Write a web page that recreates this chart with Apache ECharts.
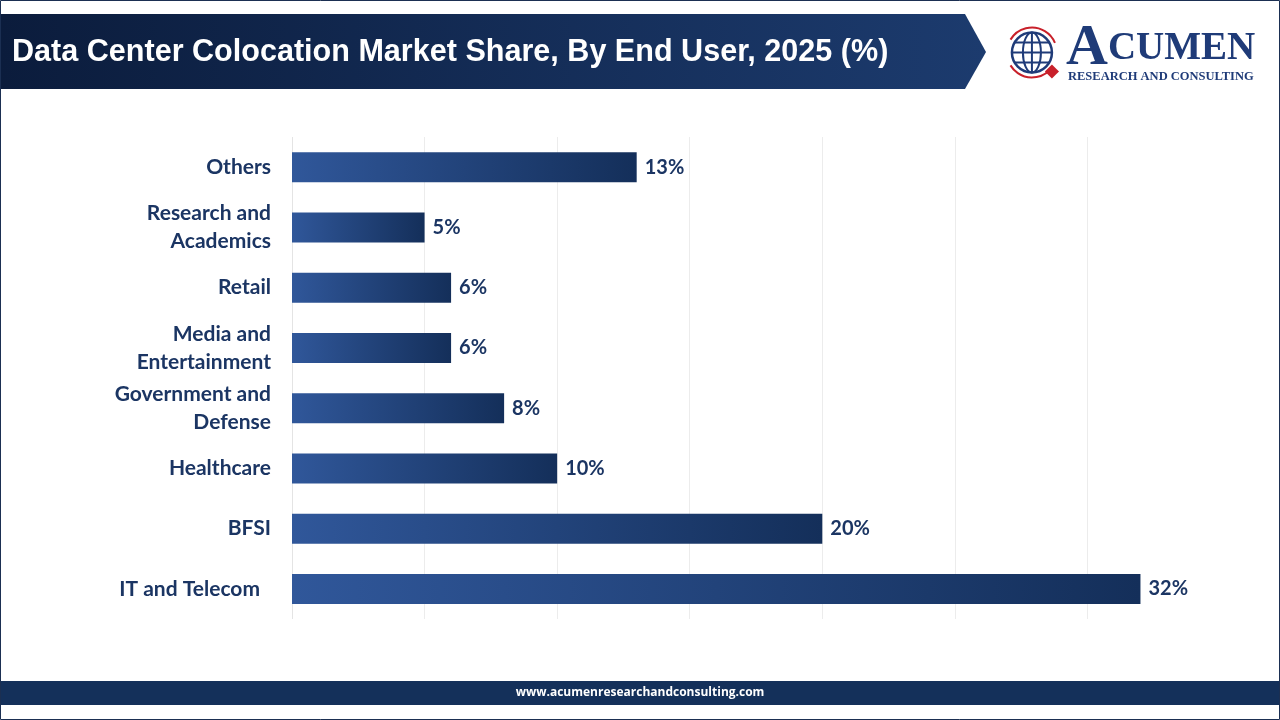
<!DOCTYPE html>
<html>
<head>
<meta charset="utf-8">
<script src="https://cdn.jsdelivr.net/npm/echarts@6/dist/echarts.min.js"></script>
<style>
  html, body { margin: 0; padding: 0; background: #fff; }
  #main { width: 1280px; height: 720px; }
</style>
</head>
<body>
<div id="main"></div>
<script>
  'use strict'

  // data, bottom-to-top as drawn on the category axis
  var categories = ['IT and Telecom', 'BFSI', 'Healthcare', 'Government and\nDefense',
    'Media and\nEntertainment', 'Retail', 'Research and\nAcademics', 'Others'];
  var shares = [32, 20, 10, 8, 6, 6, 5, 13];
  var valueTicks = [0, 5, 10, 15, 20, 25, 30, 35];

  var navy = '#1b3563';
  var labelFont = 'Lato, "Open Sans", sans-serif';

  var chart = echarts.init(document.getElementById('main'));

  var option = {
    backgroundColor: '#ffffff',
    animation: false,
    grid: {
      left: 292,
      right: 60,
      top: 137,
      height: 482
    },
    xAxis: {
      type: 'value',
      min: valueTicks[0],
      max: valueTicks[valueTicks.length - 1],
      interval: 5,
      axisLabel: { show: false },
      axisTick: { show: false },
      axisLine: { show: false },
      splitLine: {
        lineStyle: {
          color: ['#e4e4e4', '#ececec', '#ececec', '#ececec', '#ececec', '#ececec', '#ececec', 'rgba(0,0,0,0)'],
          width: 1
        }
      }
    },
    yAxis: {
      type: 'category',
      data: categories,
      axisLine: { show: false },
      axisTick: { show: false },
      axisLabel: {
        margin: 21,
        color: navy,
        fontFamily: labelFont,
        fontWeight: 'bold',
        fontSize: 21,
        lineHeight: 28,
        align: 'right',
        formatter: function (v) {
          // the first label sits a little further left in the original
          return v === categories[0] ? '{pad|' + v + '}' : v;
        },
        rich: {
          pad: {
            color: navy,
            fontFamily: labelFont,
            fontWeight: 'bold',
            fontSize: 21,
            padding: [0, 11, 0, 0]
          }
        }
      }
    },
    series: [
      {
        name: 'Share',
        type: 'bar',
        data: shares,
        barWidth: 30,
        itemStyle: {
          color: new echarts.graphic.LinearGradient(0, 0, 1, 0, [
            { offset: 0, color: '#30579a' },
            { offset: 1, color: '#142f5a' }
          ])
        },
        label: {
          show: true,
          position: 'right',
          distance: 8,
          formatter: '{c}%',
          color: navy,
          fontFamily: labelFont,
          fontWeight: 'bold',
          fontSize: 20
        }
      }
    ],
    graphic: [
      // outer frame
      {
        type: 'rect',
        shape: { x: 0.5, y: 0.5, width: 1279, height: 719 },
        style: { fill: 'none', stroke: '#1b2f52', lineWidth: 1 },
        silent: true
      },
      // title banner
      {
        type: 'polygon',
        shape: { points: [[1, 14], [965, 14], [986, 52], [965, 89], [1, 89]] },
        style: {
          fill: new echarts.graphic.LinearGradient(0, 0, 1, 0, [
            { offset: 0, color: '#0b1c3c' },
            { offset: 1, color: '#1c3b6e' }
          ])
        },
        silent: true
      },
      {
        type: 'text',
        x: 12,
        y: 52,
        scaleX: 0.955,
        style: {
          text: 'Data Center Colocation Market Share, By End User, 2025 (%)',
          fill: '#ffffff',
          font: 'bold 32px "Liberation Sans Narrow", "Liberation Sans", Arial, sans-serif',
          verticalAlign: 'middle'
        },
        silent: true
      },
      // logo: globe
      {
        type: 'group',
        left: 1008,
        top: 25,
        silent: true,
        children: [
          { type: 'arc', shape: { cx: 26, cy: 27, r: 25, startAngle: -2.6, endAngle: -0.4 }, style: { stroke: '#c8202a', lineWidth: 2, fill: 'none' } },
          { type: 'arc', shape: { cx: 26, cy: 27, r: 25, startAngle: 0.6, endAngle: 2.6 }, style: { stroke: '#c8202a', lineWidth: 2, fill: 'none' } },
          { type: 'circle', shape: { cx: 26, cy: 27, r: 20 }, style: { fill: '#ffffff', stroke: '#1f3b78', lineWidth: 2.5 } },
          { type: 'ellipse', shape: { cx: 26, cy: 27, rx: 9, ry: 20 }, style: { fill: 'none', stroke: '#1f3b78', lineWidth: 2 } },
          { type: 'line', shape: { x1: 26, y1: 7, x2: 26, y2: 47 }, style: { stroke: '#1f3b78', lineWidth: 2 } },
          { type: 'line', shape: { x1: 6, y1: 27, x2: 46, y2: 27 }, style: { stroke: '#1f3b78', lineWidth: 2 } },
          { type: 'line', shape: { x1: 9, y1: 17, x2: 43, y2: 17 }, style: { stroke: '#1f3b78', lineWidth: 2 } },
          { type: 'line', shape: { x1: 9, y1: 37, x2: 43, y2: 37 }, style: { stroke: '#1f3b78', lineWidth: 2 } },
          { type: 'rect', shape: { x: -5, y: -5, width: 10, height: 10 }, x: 46, y: 46, rotation: Math.PI / 4, style: { fill: '#c8202a' } }
        ]
      },
      {
        type: 'text',
        x: 1066,
        y: 78,
        style: {
          rich: {
            big: { fontSize: 58, fontFamily: '"Liberation Serif", "DejaVu Serif", serif', fontWeight: 'bold', fill: '#1f3b78' },
            small: { fontSize: 39, fontFamily: '"Liberation Serif", "DejaVu Serif", serif', fontWeight: 'bold', fill: '#1f3b78' }
          },
          text: '{big|A}{small|CUMEN}',
          verticalAlign: 'bottom'
        },
        silent: true
      },
      {
        type: 'text',
        left: 1068,
        top: 70,
        style: {
          text: 'RESEARCH AND CONSULTING',
          fill: '#1f3b78',
          font: 'bold 12.5px "Liberation Serif", "DejaVu Serif", serif'
        },
        silent: true
      },
      // footer band
      {
        type: 'rect',
        shape: { x: 1, y: 681, width: 1278, height: 24 },
        style: { fill: '#14305a' },
        silent: true
      },
      {
        type: 'text',
        x: 640,
        y: 693,
        style: {
          text: 'www.acumenresearchandconsulting.com',
          fill: '#ffffff',
          font: 'bold 12px "Open Sans", sans-serif',
          align: 'center',
          verticalAlign: 'middle'
        },
        silent: true
      }
    ]
  };

  chart.setOption(option);
  window.addEventListener('resize', function () {
    chart.resize();
  });
</script>
</body>
</html>
